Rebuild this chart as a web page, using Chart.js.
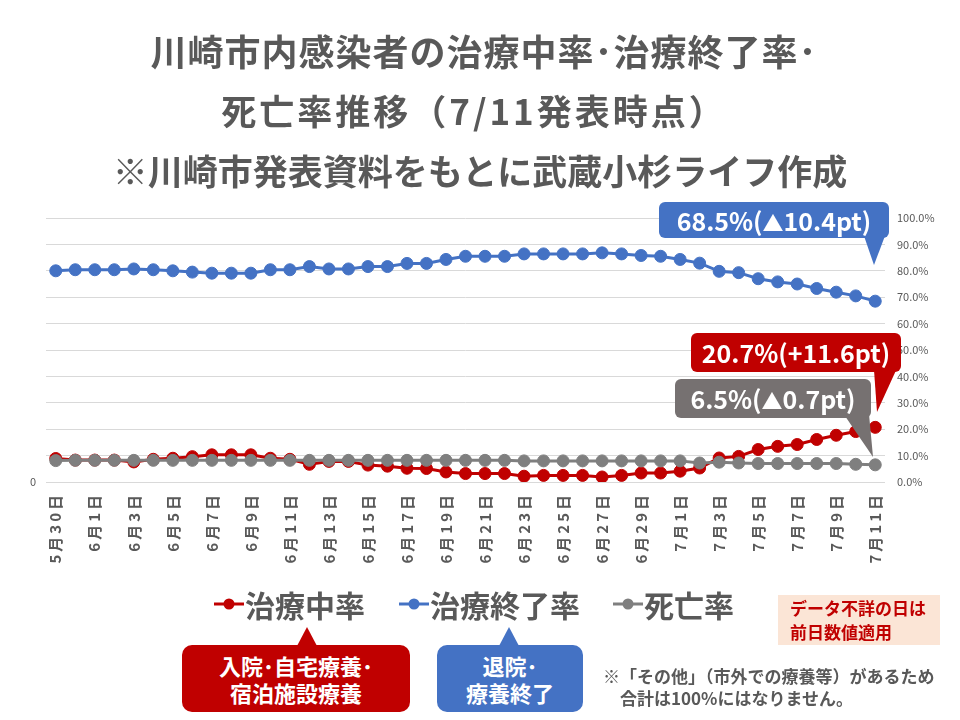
<!DOCTYPE html>
<html>
<head>
<meta charset="utf-8">
<script src="https://cdn.jsdelivr.net/npm/chart.js@4"></script>
<style>
  html, body { margin:0; padding:0; background:#fff; }
  body { width:960px; height:720px; position:relative; overflow:hidden; font-family:'Noto Sans CJK JP', sans-serif; }
  #c { position:absolute; left:0; top:0; }
  .title { position:absolute; left:0; width:960px; text-align:center; font-weight:700; font-size:35px; color:#595959; line-height:40px; white-space:nowrap; }
  .box { position:absolute; color:#fff; font-weight:700; text-align:center; white-space:nowrap; border-radius:6px; }
  .legend { position:absolute; top:586px; height:36px; display:flex; align-items:center; font-weight:700; font-size:30px; color:#595959; line-height:36px; white-space:nowrap; }
  .legend svg { margin-right:1px; }
  .note { position:absolute; font-weight:700; font-size:17px; color:#595959; white-space:nowrap; line-height:22px; }
  svg.over { position:absolute; left:0; top:0; }
</style>
</head>
<body>
<canvas id="c" width="960" height="720"></canvas>
<svg class="over" width="960" height="720">
  <polygon points="864,236 888,228 874,265" fill="#4472c4"/>
  <polygon points="874,370 898,366 877,412" fill="#c00000"/>
  <polygon points="845,416 869,414 873,457" fill="#767171"/>
  <polygon points="297,646 317,646 307,627" fill="#c00000"/>
  <polygon points="499,646 519,646 509,627" fill="#4472c4"/>
</svg>

<div class="title" style="top:30px; font-size:36px; letter-spacing:1px; left:4px;">川崎市内感染者の治療中率･治療終了率･</div>
<div class="title" style="top:90px; letter-spacing:3px; left:-6px;">死亡率推移（7/11発表時点）</div>
<div class="title" style="top:150px;">※川崎市発表資料をもとに武蔵小杉ライフ作成</div>

<div class="box" style="left:659px; top:202px; width:230px; height:36px; line-height:36px; font-size:25px; background:#4472c4;">68.5%(<span style="font-size:21px;">▲</span>10.4pt)</div>
<div class="box" style="left:691px; top:333px; width:210px; height:39px; line-height:39px; font-size:25px; background:#c00000;">20.7%(+11.6pt)</div>
<div class="box" style="left:675px; top:379px; width:196px; height:39px; line-height:39px; font-size:25px; background:#767171;">6.5%(<span style="font-size:21px;">▲</span>0.7pt)</div>

<div class="legend" style="left:214px;"><svg width="30" height="14"><line x1="0" y1="7" x2="30" y2="7" stroke="#c00000" stroke-width="3"/><circle cx="15" cy="7" r="5.5" fill="#c00000"/></svg>治療中率</div>
<div class="legend" style="left:399px;"><svg width="30" height="14"><line x1="0" y1="7" x2="30" y2="7" stroke="#4472c4" stroke-width="3"/><circle cx="15" cy="7" r="5.5" fill="#4472c4"/></svg>治療終了率</div>
<div class="legend" style="left:613px;"><svg width="30" height="14"><line x1="0" y1="7" x2="30" y2="7" stroke="#7f7f7f" stroke-width="3"/><circle cx="15" cy="7" r="5.5" fill="#7f7f7f"/></svg>死亡率</div>

<div class="box" style="left:182px; top:645px; width:228px; height:67px; font-size:22px; line-height:27px; padding-top:7px; box-sizing:border-box; background:#c00000; border-radius:10px;">入院･自宅療養･<br>宿泊施設療養</div>
<div class="box" style="left:437px; top:645px; width:146px; height:67px; font-size:22px; line-height:27px; padding-top:7px; box-sizing:border-box; background:#4472c4; border-radius:10px;">退院･<br>療養終了</div>

<div style="position:absolute; left:778px; top:595px; width:162px; height:50px; background:#fbe5d6;"></div>
<div class="note" style="left:790px; top:596px; font-size:17px; color:#c00000; line-height:24px;">データ不詳の日は<br>前日数値適用</div>

<div class="note" style="left:603px; top:665px;">※「その他」（市外での療養等）があるため</div>
<div class="note" style="left:620px; top:687px;">合計は100%にはなりません。</div>

<script>
const labels = [
  '5月30日','5月31日','6月1日','6月2日','6月3日','6月4日','6月5日','6月6日','6月7日','6月8日',
  '6月9日','6月10日','6月11日','6月12日','6月13日','6月14日','6月15日','6月16日','6月17日','6月18日',
  '6月19日','6月20日','6月21日','6月22日','6月23日','6月24日','6月25日','6月26日','6月27日','6月28日',
  '6月29日','6月30日','7月1日','7月2日','7月3日','7月4日','7月5日','7月6日','7月7日','7月8日',
  '7月9日','7月10日','7月11日'
];
const seriesNames = ['治療中率','治療終了率','死亡率'];
const treating = [
  8.9, 8.3, 8.3, 8.3, 7.6, 8.6, 9.0, 9.6, 10.3, 10.3,
  10.3, 9.0, 8.6, 6.7, 7.8, 7.8, 6.4, 6.0, 5.2, 5.1,
  3.8, 3.2, 3.2, 3.2, 2.2, 2.5, 2.5, 2.5, 1.9, 2.5,
  3.4, 3.4, 4.1, 5.3, 9.1, 9.7, 12.3, 13.5, 14.2, 16.1,
  17.7, 19.1, 20.7
];
const finished = [
  80.0, 80.4, 80.4, 80.4, 80.7, 80.4, 80.0, 79.5, 79.1, 79.1,
  79.1, 80.4, 80.4, 81.6, 80.7, 80.7, 81.6, 81.6, 82.8, 82.8,
  84.3, 85.5, 85.5, 85.5, 86.4, 86.4, 86.4, 86.4, 86.8, 86.4,
  85.8, 85.5, 84.3, 82.9, 79.8, 79.3, 77.0, 75.8, 75.0, 73.3,
  71.9, 70.5, 68.5
];
const deaths = [
  8.1, 8.2, 8.2, 8.2, 8.2, 8.2, 8.2, 8.2, 8.2, 8.2,
  8.2, 8.2, 8.2, 8.2, 8.2, 8.2, 8.2, 8.2, 8.2, 8.2,
  8.2, 8.2, 8.2, 8.2, 8.0, 8.0, 8.0, 8.0, 8.0, 8.0,
  8.0, 8.0, 8.0, 7.2, 7.5, 7.2, 7.0, 7.0, 7.0, 7.0,
  7.0, 6.7, 6.5
];
const rightTicks = [0,10,20,30,40,50,60,70,80,90,100];

Chart.defaults.font.family = "'Noto Sans CJK JP', sans-serif";

function ds(name, data, color, order){
  return { label:name, data, borderColor:color, backgroundColor:color, borderWidth:3,
    pointRadius:6, pointHoverRadius:6, pointBorderWidth:1, pointBorderColor:color,
    pointBackgroundColor:color, tension:0, order, yAxisID:'y' };
}

const chart = new Chart(document.getElementById('c'), {
  type:'line',
  data:{ labels, datasets:[
    ds(seriesNames[0], treating, '#c00000', 1),
    ds(seriesNames[1], finished, '#4472c4', 2),
    ds(seriesNames[2], deaths, '#7f7f7f', 0)
  ]},
  options:{
    responsive:false, animation:false, maintainAspectRatio:false,
    layout:{ padding:{ top:218, left:0, right:0, bottom:0 } },
    plugins:{ legend:{display:false}, tooltip:{enabled:false} },
    scales:{
      x:{ offset:true, grid:{display:false, drawTicks:false}, border:{display:false},
        ticks:{ autoSkip:false, maxRotation:90, minRotation:90, padding:10,
          color:'#595959', font:{size:15, weight:'bold'},
          callback:(v,i)=> i%2===0 ? labels[i] : '' },
        afterFit:s=>{ s.height = 238; } },
      y:{ position:'right', min:0, max:100,
        afterBuildTicks:s=>{ s.ticks = rightTicks.map(v=>({value:v})); },
        grid:{ color:'#d9d9d9', lineWidth:1, drawTicks:false }, border:{display:false},
        ticks:{ padding:12, color:'#595959', font:{size:11}, callback:v=> v.toFixed(1)+'%' },
        afterFit:s=>{ s.width = 75; } },
      y2:{ position:'left', min:0, max:100,
        afterBuildTicks:s=>{ s.ticks = [{value:0}]; },
        grid:{display:false, drawTicks:false}, border:{display:false},
        ticks:{ padding:10, color:'#595959', font:{size:11}, callback:v=> v===0 ? '0' : '' },
        afterFit:s=>{ s.width = 46; } }
    }
  }
});

// widen spacing of the rotated date labels like the reference
const xs = chart.scales.x;
const origDrawLabels = xs.drawLabels.bind(xs);
xs.drawLabels = function(area){
  const ctx = this.ctx;
  ctx.save();
  if ('letterSpacing' in ctx) ctx.letterSpacing = '3px';
  origDrawLabels(area);
  ctx.restore();
};
chart.draw();
</script>
</body>
</html>
